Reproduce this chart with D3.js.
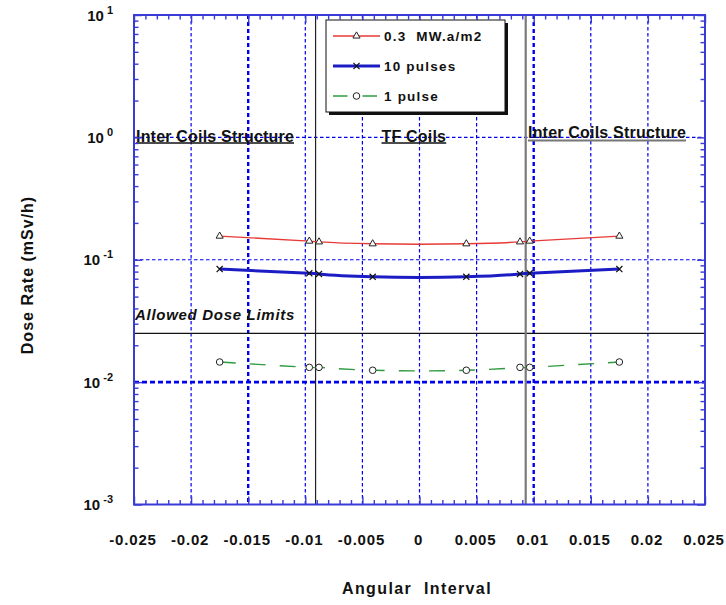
<!DOCTYPE html>
<html>
<head>
<meta charset="utf-8">
<script src="https://cdn.jsdelivr.net/npm/d3@7"></script>
<style>
  html, body { margin: 0; padding: 0; background: #fff; }
  svg { display: block; font-family: "Liberation Sans", Arial, Helvetica, sans-serif; font-weight: bold; }
  text { white-space: pre; }
</style>
</head>
<body>
<svg id="chart" width="726" height="605"></svg>
<script>
// Angular positions of the calculation points (rad)
const angles = [-0.0175, -0.00965, -0.0088, -0.0041, 0.0041, 0.0088, 0.00965, 0.0175];
// Dose rate (mSv/h) for each irradiation scenario
const dose03MWa    = [0.156, 0.142, 0.140, 0.135, 0.135, 0.140, 0.142, 0.156];
const dose10Pulses = [0.084, 0.0775, 0.0765, 0.0725, 0.0725, 0.0765, 0.0775, 0.084];
const dose1Pulse   = [0.0146, 0.0132, 0.0132, 0.0125, 0.0125, 0.0132, 0.0132, 0.0146];
const seriesNames  = ["0.3  MW.a/m2", "10 pulses", "1 pulse"];

// Axis ticks
const xTicks = [-0.025, -0.02, -0.015, -0.01, -0.005, 0, 0.005, 0.01, 0.015, 0.02, 0.025];
const xTickLabels = ["-0.025", "-0.02", "-0.015", "-0.01", "-0.005", "0", "0.005", "0.01", "0.015", "0.02", "0.025"];
const yExponents = [1, 0, -1, -2, -3];

// Reference levels
const doseLimit = 0.025;
const coilEdges = [-0.0091, 0.0093];
const regionLabels = ["Inter Coils Structure", "TF Coils", "Inter Coils Structure"];

const svg = d3.select("#chart");
const x = d3.scaleLinear().domain([-0.025, 0.025]).range([134, 705]);
const y = d3.scaleLog().domain([1e-3, 1e1]).range([504.5, 15]);
const [x0, x1] = x.range();
const [y0, y1] = y.range();

const gridBlue = "#0000ee";
const axisBlue = "#3a3ad6";

// ---- grid ----
const grid = svg.append("g");
xTicks.filter(t => t > -0.025 && t < 0.025).forEach(t => {
  const heavy = (t === -0.015 || t === 0.01);
  grid.append("line")
    .attr("x1", x(t)).attr("x2", x(t)).attr("y1", y1).attr("y2", y0)
    .attr("stroke", gridBlue)
    .attr("stroke-width", heavy ? 2.4 : 1.2)
    .attr("stroke-dasharray", heavy ? "4,3" : "3.5,2.5");
});
yExponents.filter(e => e < 1 && e > -3).forEach(e => {
  const v = Math.pow(10, e);
  const heavy = (e === -2);
  grid.append("line")
    .attr("x1", x0).attr("x2", x1).attr("y1", y(v)).attr("y2", y(v))
    .attr("stroke", gridBlue)
    .attr("stroke-width", heavy ? 2.6 : 1.2)
    .attr("stroke-dasharray", heavy ? "5,3" : "3.5,2.5");
});

// ---- reference lines ----
svg.append("line")
  .attr("x1", x0).attr("x2", x1).attr("y1", y(doseLimit)).attr("y2", y(doseLimit))
  .attr("stroke", "#111").attr("stroke-width", 1.2);
svg.append("line")
  .attr("x1", x(coilEdges[0])).attr("x2", x(coilEdges[0])).attr("y1", y1).attr("y2", y0)
  .attr("stroke", "#222").attr("stroke-width", 1.2);
svg.append("line")
  .attr("x1", x(coilEdges[1])).attr("x2", x(coilEdges[1])).attr("y1", y1).attr("y2", y0)
  .attr("stroke", "#7a7a7a").attr("stroke-width", 2.2);

// ---- region annotations (underlined) ----
const ann = [
  { text: regionLabels[0], x: 136, y: 141.5, ul: 143, color: "#111", ulColor: "#111", ulW: 1.5 },
  { text: regionLabels[1], x: 381.5, y: 141.5, ul: 143, color: "#111", ulColor: "#111", ulW: 1.5 },
  { text: regionLabels[2], x: 528, y: 138.3, ul: 140.5, color: "#111", ulColor: "#777", ulW: 2 }
];
ann.forEach(a => {
  const t = svg.append("text")
    .attr("x", a.x).attr("y", a.y)
    .attr("font-size", 16).attr("letter-spacing", 0.2)
    .attr("fill", a.color).text(a.text);
  const w = t.node().getComputedTextLength();
  svg.append("line")
    .attr("x1", a.x).attr("x2", a.x + w).attr("y1", a.ul).attr("y2", a.ul)
    .attr("stroke", a.ulColor).attr("stroke-width", a.ulW);
});
svg.append("text")
  .attr("x", 135).attr("y", 320)
  .attr("font-size", 15).attr("font-style", "italic").attr("letter-spacing", 0.7)
  .attr("fill", "#111").text("Allowed Dose Limits");

// ---- series ----
const series = [
  { name: seriesNames[0], values: dose03MWa,    color: "#e63a36", width: 1.4, dash: null,    marker: "triangle" },
  { name: seriesNames[1], values: dose10Pulses, color: "#1c1cc4", width: 3,   dash: null,    marker: "x" },
  { name: seriesNames[2], values: dose1Pulse,   color: "#2f9a3f", width: 1.4, dash: "16,14", marker: "circle" }
];
const line = d3.line().x(d => x(d[0])).y(d => y(d[1])).curve(d3.curveNatural);

function drawMarker(g, kind, cx, cy) {
  if (kind === "triangle") {
    g.append("path")
      .attr("d", d3.symbol(d3.symbolTriangle, 22)())
      .attr("transform", `translate(${cx},${cy})`)
      .attr("fill", "#fff").attr("stroke", "#222").attr("stroke-width", 1);
  } else if (kind === "x") {
    g.append("path")
      .attr("d", d3.symbol(d3.symbolX, 26)())
      .attr("transform", `translate(${cx},${cy})`)
      .attr("fill", "none").attr("stroke", "#111").attr("stroke-width", 1.2);
  } else {
    g.append("circle")
      .attr("cx", cx).attr("cy", cy).attr("r", 3.3)
      .attr("fill", "#fff").attr("stroke", "#222").attr("stroke-width", 1);
  }
}

series.forEach(s => {
  const pts = angles.map((a, i) => [a, s.values[i]]);
  svg.append("path")
    .attr("d", line(pts))
    .attr("fill", "none")
    .attr("stroke", s.color)
    .attr("stroke-width", s.width)
    .attr("stroke-dasharray", s.dash);
  const mg = svg.append("g");
  pts.forEach(p => drawMarker(mg, s.marker, x(p[0]), y(p[1])));
});

// ---- axes frame with inward ticks ----
const xMinor = d3.range(-25, 26).filter(i => i % 5 !== 0).map(i => i / 1000);
const yMinor = [];
yExponents.slice(1).forEach(e => { for (let k = 2; k <= 9; k++) yMinor.push(k * Math.pow(10, e)); });

function frameAxis(gen, scale, transform, values, size) {
  const g = svg.append("g").attr("transform", transform)
    .call(gen(scale).tickValues(values).tickSize(size).tickFormat(""));
  g.selectAll("line").attr("stroke", axisBlue).attr("stroke-width", 1.4);
  g.select(".domain").remove();
}
const yMajor = yExponents.map(e => Math.pow(10, e));
frameAxis(d3.axisBottom, x, `translate(0,${y0})`, xTicks, -8);
frameAxis(d3.axisBottom, x, `translate(0,${y0})`, xMinor, -4.5);
frameAxis(d3.axisTop, x, `translate(0,${y1})`, xTicks, -8);
frameAxis(d3.axisTop, x, `translate(0,${y1})`, xMinor, -4.5);
frameAxis(d3.axisLeft, y, `translate(${x0},0)`, yMajor, -8);
frameAxis(d3.axisLeft, y, `translate(${x0},0)`, yMinor, -4.5);
frameAxis(d3.axisRight, y, `translate(${x1},0)`, yMajor, -8);
frameAxis(d3.axisRight, y, `translate(${x1},0)`, yMinor, -4.5);
svg.append("rect")
  .attr("x", x0).attr("y", y1).attr("width", x1 - x0).attr("height", y0 - y1)
  .attr("fill", "none").attr("stroke", axisBlue).attr("stroke-width", 2);

// ---- tick labels ----
svg.append("g").selectAll("text").data(xTicks).join("text")
  .attr("x", d => x(d) - 1).attr("y", 545)
  .attr("text-anchor", "middle").attr("font-size", 15).attr("letter-spacing", 0.8)
  .attr("fill", "#111")
  .text((d, i) => xTickLabels[i]);

const yl = svg.append("g").selectAll("text").data(yExponents).join("text")
  .attr("x", 113).attr("y", e => y(Math.pow(10, e)) + 5.5)
  .attr("text-anchor", "end").attr("font-size", 15).attr("fill", "#111");
yl.append("tspan").text("10");
yl.append("tspan").attr("dx", 3).attr("dy", -7).attr("font-size", 11).text(e => String(e));

// ---- axis titles ----
svg.append("text")
  .attr("x", 417).attr("y", 594)
  .attr("text-anchor", "middle").attr("font-size", 16).attr("letter-spacing", 1.4)
  .attr("fill", "#111").text("Angular  Interval");
svg.append("text")
  .attr("transform", "translate(33,275) rotate(-90)")
  .attr("text-anchor", "middle").attr("font-size", 16).attr("letter-spacing", 1)
  .attr("fill", "#111").text("Dose Rate (mSv/h)");

// ---- legend ----
const lg = svg.append("g");
lg.append("rect").attr("x", 329).attr("y", 23).attr("width", 179).attr("height", 92).attr("fill", "#111");
lg.append("rect").attr("x", 326).attr("y", 20).attr("width", 179).attr("height", 92)
  .attr("fill", "#fff").attr("stroke", "#111").attr("stroke-width", 1);
series.forEach((s, i) => {
  const ly = 36 + i * 30;
  lg.append("line")
    .attr("x1", 333).attr("x2", s.dash ? 377.5 : 380).attr("y1", ly).attr("y2", ly)
    .attr("stroke", s.color).attr("stroke-width", s.width)
    .attr("stroke-dasharray", s.dash ? "14.5,15" : null);
  drawMarker(lg, s.marker, 356.5, ly);
  lg.append("text").attr("x", 384).attr("y", ly + 5)
    .attr("font-size", 13.5).attr("letter-spacing", 1.2).attr("fill", "#111")
    .text(s.name);
});
</script>
</body>
</html>
